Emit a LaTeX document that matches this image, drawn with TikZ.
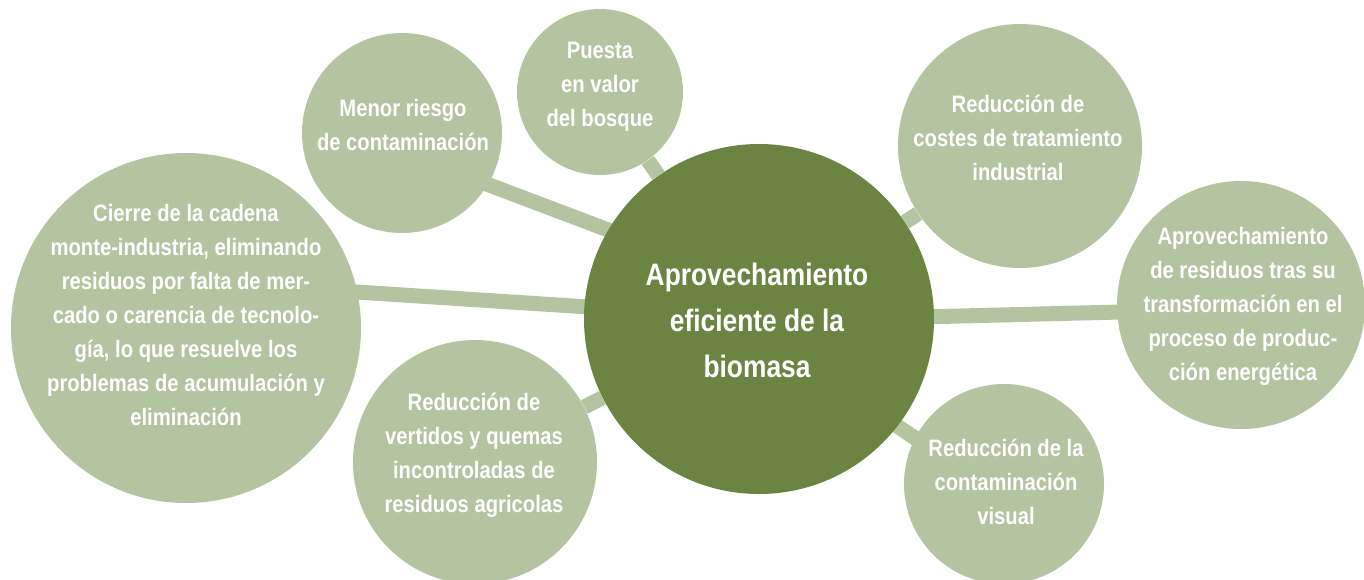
\documentclass[tikz,border=0pt]{standalone}
\usepackage{fontspec}
\newfontfamily\condfont{Liberation Sans}[FakeStretch=0.85]
\usetikzlibrary{backgrounds,calc}
\definecolor{leaf}{HTML}{B4C3A0}
\definecolor{hub}{HTML}{6B8441}
\begin{document}
\begin{tikzpicture}[x=0.5pt,y=-0.5pt,
  bubble/.style={circle,fill=leaf,draw=none,inner sep=0pt},
  hubc/.style={circle,fill=hub,draw=none,inner sep=0pt,minimum size=175pt},
  leaftxt/.style={text=white,align=center,inner sep=0pt,font=\condfont\bfseries\fontsize{11.9}{17}\selectfont},
  hubtxt/.style={text=white,align=center,inner sep=0pt,font=\condfont\bfseries\fontsize{15.5}{23}\selectfont},
  link/.style={draw=leaf,line width=7.5pt}]
\useasboundingbox (0,0) rectangle (1364,579);
\clip (0,0) rectangle (1364,579);
% circles
\node[hubc] (c) at (759,319) {};
\node[bubble,minimum size=83pt] (puesta) at (600,92) {};
\node[bubble,minimum size=100pt] (menor) at (402,133) {};
\node[bubble,minimum size=175pt] (cierre) at (186,328) {};
\node[bubble,minimum size=122pt] (vertidos) at (475,462) {};
\node[bubble,minimum size=122pt] (costes) at (1020,146) {};
\node[bubble,minimum size=124pt] (resid) at (1241,305) {};
\node[bubble,minimum size=100pt] (visual) at (1004,484) {};
% connectors
\begin{scope}[on background layer]
\draw[link] (c) -- (puesta);
\draw[link] ($(menor)+(0,19)$) -- ($(c)+(0,-32)$);
\draw[link] ($(cierre)+(0,-47)$) -- ($(c)+(0,-1)$);
\draw[link] (c) -- (vertidos);
\draw[link] (c) -- (costes);
\draw[link] ($(c)+(0,2)$) -- ($(resid)+(0,4)$);
\draw[link] ($(c)+(0,14)$) -- ($(visual)+(0,14)$);
\end{scope}
% texts
\node[hubtxt] (tc) at (757,320) {Aprovechamiento\\eficiente de la\\biomasa};
\node[leaftxt] (tpuesta) at (600,87) {Puesta\\en valor\\del bosque};
\node[leaftxt] (tmenor) at (403,125) {Menor riesgo\\de contaminación};
\node[leaftxt] (tcierre) at (186,315) {Cierre de la cadena\\monte-industria, eliminando\\residuos por falta de mer-\\cado o carencia de tecnolo-\\gía, lo que resuelve los\\problemas de acumulación y\\eliminación};
\node[leaftxt] (tvertidos) at (474,455) {Reducción de\\vertidos y quemas\\ incontroladas de\\residuos agricolas};
\node[leaftxt] (tcostes) at (1018,138) {Reducción de\\costes de tratamiento\\industrial};
\node[leaftxt] (tresid) at (1243,306) {Aprovechamiento\\de residuos tras su\\transformación en el\\proceso de produc-\\ción energética};
\node[leaftxt] (tvisual) at (1006,482) {Reducción de la\\contaminación\\visual};
\end{tikzpicture}
\end{document}
